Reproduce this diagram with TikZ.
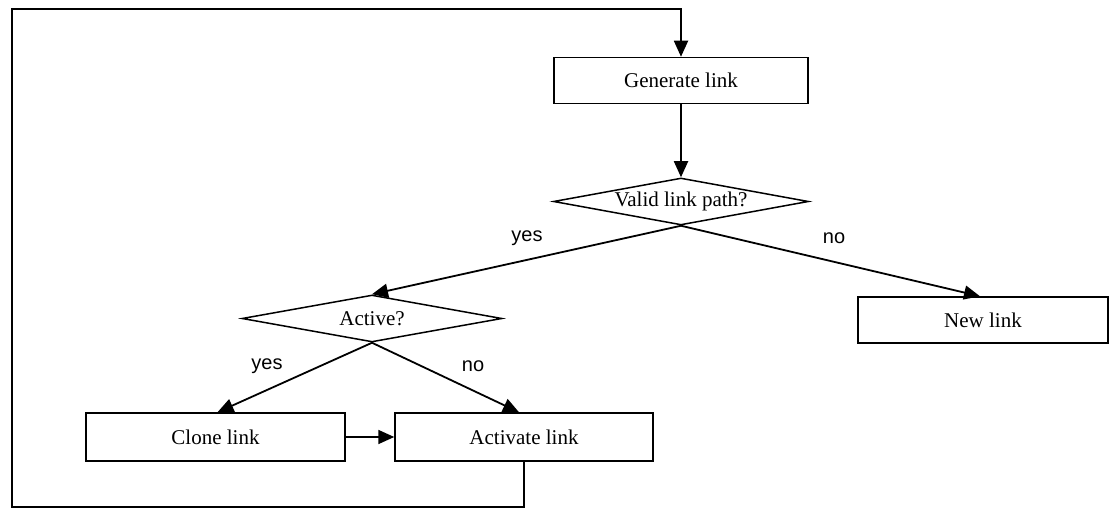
\documentclass[tikz,border=0pt]{standalone}
\usepackage{fontspec}
\setmainfont{Liberation Serif}
\newfontfamily\labelfont{Liberation Sans}
\usetikzlibrary{shapes.geometric,arrows.meta}
\begin{document}
\begin{tikzpicture}[x=1pt,y=-1pt,
  every node/.style={font=\fontsize{21}{24}\selectfont},
  line/.style={line width=1.8pt},
  arr/.style={line, -{Triangle[length=16pt,width=14pt]}},
  boxnode/.style={draw, line width=1.5pt, rectangle, inner sep=0pt, minimum height=46pt},
  dianode/.style={draw, line width=1.5pt, diamond, inner sep=0pt, minimum height=47pt},
  answer/.style={font=\labelfont\fontsize{20}{22}\selectfont}]
  \useasboundingbox (0,0) rectangle (1109,508);

  % process boxes
  \node[boxnode, minimum width=254pt] (gen) at (681,80.5) {Generate link};
  \node[boxnode, minimum width=250pt] (new) at (983,320) {New link};
  \node[boxnode, minimum width=259pt, minimum height=48pt] (clone) at (215.5,437) {Clone link};
  \node[boxnode, minimum width=258pt, minimum height=48pt] (activate) at (524,437) {Activate link};

  % decisions
  \node[dianode, minimum width=255pt, label=center:{Valid link path?}] (valid) at (681,201.5) {};
  \node[dianode, minimum width=260pt, label=center:{Active?}] (active) at (372,318.5) {};

  % branch answers
  \node[answer] (yes1) at (527,238) {yes};
  \node[answer] (no1) at (834,238) {no};
  \node[answer] (yes2) at (267,366) {yes};
  \node[answer] (no2) at (473,366) {no};

  % loop-back corners
  \coordinate (lowleft) at (12,507);
  \coordinate (upleft) at (12,9);

  % connectors
  \draw[arr] (gen.south) -- (valid.north);
  \draw[arr] (valid.south) -- (active.north);
  \draw[arr] (valid.south) -- ([xshift=-3pt]new.north);
  \draw[arr] (active.south) -- ([xshift=2pt]clone.north);
  \draw[arr] (active.south) -- ([xshift=-5pt]activate.north);
  \draw[arr] (clone.east) -- (activate.west);
  \draw[arr] (activate.south) |- (lowleft) -- (upleft) -| (gen.north);
\end{tikzpicture}
\end{document}
